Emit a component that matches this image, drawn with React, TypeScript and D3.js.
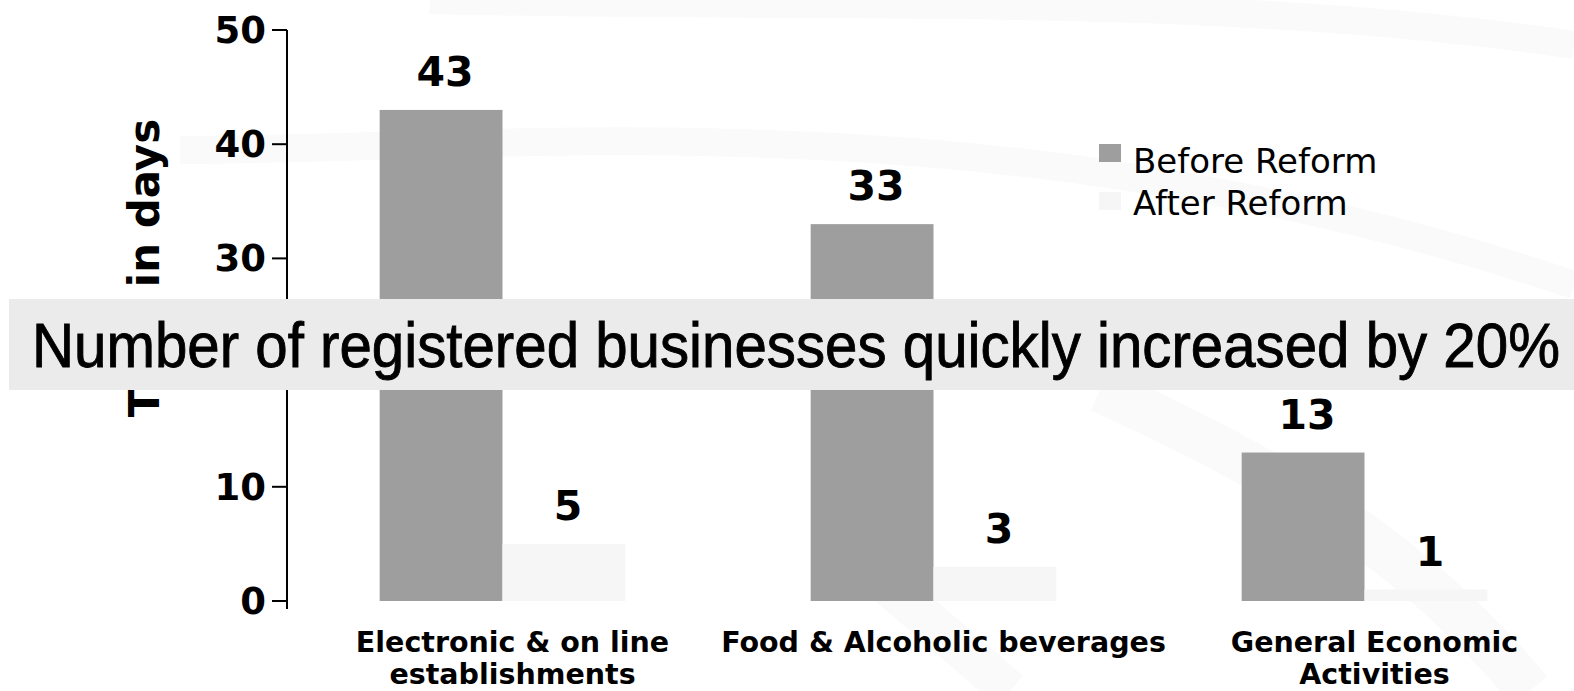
import React, { useLayoutEffect, useRef, useState } from "react";
import * as d3 from "d3";

const categoryNames = [
  "Electronic & on line establishments",
  "Food & Alcoholic beverages",
  "General Economic Activities",
];
const categoryLines = [
  ["Electronic & on line", "establishments"],
  ["Food & Alcoholic beverages"],
  ["General Economic", "Activities"],
];
const seriesNames = ["Before Reform", "After Reform"];
const beforeValues = [43, 33, 13];
const afterValues = [5, 3, 1];
const yTicks = [0, 10, 20, 30, 40, 50];
const yTitle = "Time in days";
const bannerText = "Number of registered businesses quickly increased by 20%";

const W = 1574;
const H = 691;
const seriesColors = ["#9e9e9e", "#f6f6f6"];
const BANNER_TEXT_WIDTH = 1528;

export default function App() {
  const bannerRef = useRef<SVGTextElement>(null);
  const [sx, setSx] = useState(0.9246);
  useLayoutEffect(() => {
    if (bannerRef.current) {
      const len = bannerRef.current.getComputedTextLength();
      if (len > 0) setSx(BANNER_TEXT_WIDTH / len);
    }
  }, []);

  const x = d3
    .scaleBand<string>()
    .domain(categoryNames)
    .range([287, 1580])
    .paddingInner(0.43)
    .paddingOuter(0.215);
  const xs = d3.scaleBand<string>().domain(seriesNames).range([0, x.bandwidth()]);
  const y = d3.scaleLinear().domain([0, 50]).range([601, 30]);
  const seriesValues = [beforeValues, afterValues];

  const font = "'DejaVu Sans', Verdana, sans-serif";
  const axisX = 287;

  return (
    <svg
      width={W}
      height={H}
      style={{ position: "absolute", left: 0, top: 0, background: "#fff" }}
    >
      <g fill="none" stroke="#fafafa" strokeLinecap="butt">
        <path d="M 180 150 C 500 150, 1000 90, 1574 285" strokeWidth={28} />
        <path d="M 430 0 C 800 10, 1200 -10, 1574 45" strokeWidth={28} />
        <path d="M 870 570 L 1010 691" strokeWidth={40} />
        <path d="M 1100 390 C 1300 480, 1420 560, 1530 691" strokeWidth={45} />
      </g>

      {seriesNames.map((s, si) => (
        <g key={s}>
          {categoryNames.map((c, ci) => {
            const v = seriesValues[si][ci];
            const bx = (x(c) as number) + (xs(s) as number);
            return (
              <rect
                key={c}
                x={bx}
                y={y(v)}
                width={xs.bandwidth()}
                height={y(0) - y(v)}
                fill={seriesColors[si]}
              />
            );
          })}
        </g>
      ))}

      {seriesNames.map((s, si) => (
        <g key={s + "-lbl"}>
          {categoryNames.map((c, ci) => {
            const v = seriesValues[si][ci];
            const cx = (x(c) as number) + (xs(s) as number) + xs.bandwidth() / 2 + 4;
            return (
              <text
                key={c}
                x={cx}
                y={y(v) - 24}
                textAnchor="middle"
                fontFamily={font}
                fontWeight="bold"
                fontSize={41}
                fill="#000"
              >
                {v}
              </text>
            );
          })}
        </g>
      ))}

      <line x1={axisX} x2={axisX} y1={y(50)} y2={y(0) + 8} stroke="#000" strokeWidth={2} />
      {yTicks.map((t) => (
        <g key={t}>
          <line x1={axisX - 15} x2={axisX} y1={y(t)} y2={y(t)} stroke="#000" strokeWidth={2} />
          <text
            x={266}
            y={y(t) + 13}
            textAnchor="end"
            fontFamily={font}
            fontWeight="bold"
            fontSize={37}
            fill="#000"
          >
            {t}
          </text>
        </g>
      ))}

      <text
        transform={`translate(159, 268) rotate(-90)`}
        textAnchor="middle"
        fontFamily={font}
        fontWeight="bold"
        fontSize={42}
        fill="#000"
      >
        {yTitle}
      </text>

      {categoryNames.map((c, ci) => {
        const cx = (x(c) as number) + x.bandwidth() / 2 + 10;
        return (
          <text
            key={c}
            x={cx}
            y={652}
            textAnchor="middle"
            fontFamily={font}
            fontWeight="bold"
            fontSize={28.5}
            fill="#000"
          >
            {categoryLines[ci].map((ln, li) => (
              <tspan key={li} x={cx} dy={li === 0 ? 0 : 32}>
                {ln}
              </tspan>
            ))}
          </text>
        );
      })}

      {seriesNames.map((s, si) => (
        <g key={s + "-leg"}>
          <rect x={1099} y={144 + si * 48} width={22} height={18} fill={seriesColors[si]} />
          <text x={1133} y={173 + si * 42} fontFamily={font} fontSize={34} fill="#000">
            {s}
          </text>
        </g>
      ))}

      <rect x={9} y={299} width={W - 9} height={91} fill="#ebebeb" />
      <text
        ref={bannerRef}
        transform={`translate(32, 367) scale(${sx}, 1)`}
        x={0}
        y={0}
        fontFamily="'Liberation Sans Narrow', 'Arial Narrow', 'Liberation Sans', Arial, sans-serif"
        fontSize={63}
        fill="#000"
        stroke="#000"
        strokeWidth={0.9}
      >
        {bannerText}
      </text>
    </svg>
  );
}
